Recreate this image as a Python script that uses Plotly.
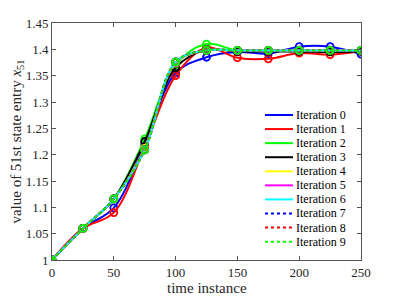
import plotly.graph_objects as go

t = [0, 25, 50, 75, 100, 125, 150, 175, 200, 225, 250]

iter0 = [1.0, 1.06, 1.099, 1.220, 1.355, 1.385, 1.395, 1.392, 1.405, 1.405, 1.391]
iter1 = [1.0, 1.06, 1.090, 1.215, 1.350, 1.403, 1.384, 1.382, 1.393, 1.390, 1.397]
iter2 = [1.0, 1.06, 1.116, 1.230, 1.370, 1.410, 1.398, 1.398, 1.398, 1.398, 1.398]
iter3 = [1.0, 1.06, 1.116, 1.225, 1.365, 1.399, 1.396, 1.396, 1.396, 1.395, 1.396]
iter4 = [1.0, 1.06, 1.116, 1.212, 1.374, 1.398, 1.398, 1.398, 1.398, 1.398, 1.398]
iter5 = [1.0, 1.06, 1.116, 1.210, 1.375, 1.398, 1.398, 1.398, 1.398, 1.398, 1.398]
iter6 = [1.0, 1.06, 1.116, 1.209, 1.376, 1.398, 1.398, 1.398, 1.398, 1.398, 1.398]
iter7 = [1.0, 1.06, 1.116, 1.209, 1.376, 1.398, 1.398, 1.398, 1.398, 1.398, 1.398]
iter8 = [1.0, 1.06, 1.116, 1.209, 1.376, 1.398, 1.398, 1.398, 1.398, 1.398, 1.398]
iter9 = [1.0, 1.06, 1.116, 1.209, 1.376, 1.398, 1.398, 1.398, 1.398, 1.398, 1.398]

series = [iter0, iter1, iter2, iter3, iter4, iter5, iter6, iter7, iter8, iter9]
names = [f"Iteration {i}" for i in range(10)]
colors = ["#0000ff", "#ff0000", "#00ff00", "#000000", "#ffff00", "#ff00ff",
          "#00ffff", "#0000ff", "#ff0000", "#00ff00"]
dashes = ["solid"] * 7 + ["dot"] * 3

xticks = [0, 50, 100, 150, 200, 250]
yticks = [1.0, 1.05, 1.1, 1.15, 1.2, 1.25, 1.3, 1.35, 1.4, 1.45]
yticklabels = ["1", "1.05", "1.1", "1.15", "1.2", "1.25", "1.3", "1.35", "1.4", "1.45"]
xtitle = "time instance"
ytitle = "value of 51st state entry <i>x</i><sub>51</sub>"

# page body has an 8px default margin; compensate so the plot box lands at
# x 52..361, y 23..260 in the 399x299 window
OFF = 8
W, H = 399, 299
ML, MR, MT, MB = 52 - OFF, 38 + OFF, 23 - OFF, 39 + OFF
PW, PH = W - ML - MR, H - MT - MB

fig = go.Figure()
for s, n, c, d in zip(series, names, colors, dashes):
    fig.add_trace(go.Scatter(x=t, y=s, mode="lines", name=n, showlegend=False,
                             line=dict(color=c, width=2, dash=d, shape="spline", smoothing=1.0)))
    fig.add_trace(go.Scatter(x=t, y=s, mode="markers", showlegend=False, hoverinfo="skip",
                             marker=dict(symbol="circle-open", size=7, color=c,
                                         line=dict(color=c, width=1.8))))

# compact MATLAB-style legend (lines only), positioned in window pixels
def px_x(px):
    return (px - OFF - ML) / PW

def px_y(py):
    return (H - MB - (py - OFF)) / PH

font = "Times New Roman, Liberation Serif, serif"

leg_top, leg_step = 115.0, 14.07
shapes, annotations = [], []
for i, (n, c, d) in enumerate(zip(names, colors, dashes)):
    yy = px_y(leg_top + i * leg_step)
    shapes.append(dict(type="line", xref="paper", yref="paper",
                       x0=px_x(265), x1=px_x(293), y0=yy, y1=yy,
                       line=dict(color=c, width=2, dash=d)))
    annotations.append(dict(text=n, xref="paper", yref="paper", x=px_x(294), y=yy,
                            xanchor="left", yanchor="middle", showarrow=False,
                            font=dict(family=font, size=12, color="#000000")))

annotations.append(dict(text=xtitle, xref="paper", yref="paper", x=0.5, y=px_y(288),
                        xanchor="center", yanchor="middle", showarrow=False,
                        font=dict(family=font, size=15, color="#262626")))

axcommon = dict(showgrid=False, zeroline=False, showline=True, linecolor="#555555",
                linewidth=1, mirror="ticks", ticks="inside", ticklen=4, tickcolor="#555555",
                automargin=False,
                tickfont=dict(family=font, size=13, color="#262626"))

fig.update_layout(
    width=W, height=H,
    margin=dict(l=ML, r=MR, t=MT, b=MB),
    paper_bgcolor="white", plot_bgcolor="white",
    font=dict(family=font, color="#262626"),
    xaxis=dict(range=[0, 250], tickvals=xticks, **axcommon),
    yaxis=dict(range=[1.0, 1.45], tickvals=yticks, ticktext=yticklabels,
               title=dict(text=ytitle, font=dict(family=font, size=15)),
               **axcommon),
    shapes=shapes,
    annotations=annotations,
    showlegend=False,
)

fig.write_html("out.html")
